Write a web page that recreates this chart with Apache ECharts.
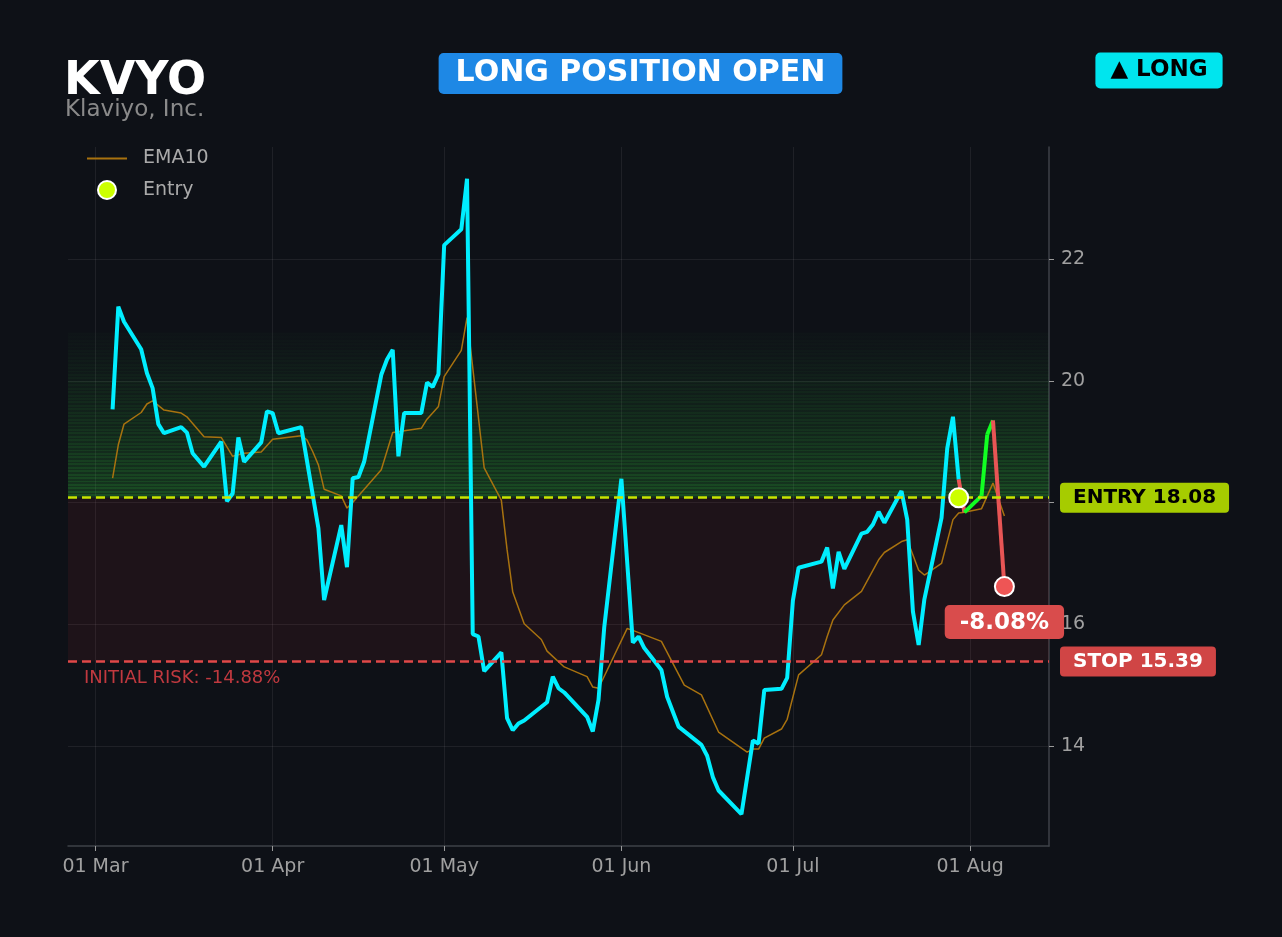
<!DOCTYPE html>
<html><head><meta charset="utf-8">
<script src="https://cdn.jsdelivr.net/npm/echarts@6/dist/echarts.min.js"></script>
<style>html,body{margin:0;padding:0;background:#0e1117;}#chart{width:1282px;height:937px;}</style>
</head><body><div id="chart"></div>
<script>
const ticker = 'KVYO';
const company = 'Klaviyo, Inc.';
const statusText = 'LONG POSITION OPEN';
const sideText = '▲ LONG';

const priceDates = [
 '2026-03-04','2026-03-05','2026-03-06','2026-03-09','2026-03-10','2026-03-11','2026-03-12','2026-03-13','2026-03-16','2026-03-17','2026-03-18','2026-03-20','2026-03-23','2026-03-24','2026-03-25','2026-03-26','2026-03-27','2026-03-30','2026-03-31',
 '2026-04-01','2026-04-02','2026-04-06','2026-04-09','2026-04-10','2026-04-13','2026-04-14','2026-04-15','2026-04-16','2026-04-17','2026-04-20','2026-04-21','2026-04-22','2026-04-23','2026-04-24','2026-04-27','2026-04-28','2026-04-29','2026-04-30',
 '2026-05-01','2026-05-04','2026-05-05','2026-05-06','2026-05-07','2026-05-08','2026-05-11','2026-05-12','2026-05-13','2026-05-14','2026-05-15','2026-05-19','2026-05-20','2026-05-21','2026-05-22','2026-05-26','2026-05-27','2026-05-28','2026-05-29',
 '2026-06-01','2026-06-03','2026-06-04','2026-06-05','2026-06-08','2026-06-09','2026-06-11','2026-06-15','2026-06-16','2026-06-17','2026-06-18','2026-06-22','2026-06-24','2026-06-25','2026-06-26','2026-06-29','2026-06-30',
 '2026-07-01','2026-07-02','2026-07-06','2026-07-07','2026-07-08','2026-07-09','2026-07-10','2026-07-13','2026-07-14','2026-07-15','2026-07-16','2026-07-17','2026-07-20','2026-07-21','2026-07-22','2026-07-23','2026-07-24','2026-07-27','2026-07-28','2026-07-29','2026-07-30','2026-07-31',
 '2026-08-03','2026-08-04','2026-08-05','2026-08-07'
];
const priceValues = [
 19.53,21.22,20.97,20.52,20.13,19.88,19.29,19.14,19.24,19.15,18.81,18.59,19.00,18.02,18.15,19.07,18.67,18.99,19.50,
 19.47,19.14,19.24,17.58,16.40,17.63,16.94,18.40,18.42,18.67,20.10,20.35,20.51,18.76,19.47,19.47,19.97,19.90,20.11,
 22.23,22.49,23.32,15.84,15.80,15.23,15.54,14.46,14.26,14.37,14.42,14.72,15.14,14.95,14.88,14.48,14.24,14.76,15.95,
 18.39,15.70,15.80,15.61,15.25,14.81,14.32,14.02,13.84,13.49,13.27,12.88,14.09,14.04,14.92,14.94,15.12,
 16.39,16.93,17.03,17.26,16.59,17.19,16.91,17.49,17.52,17.64,17.85,17.67,18.19,17.72,16.21,15.66,16.41,17.75,18.89,19.41,18.38,17.84,
 18.11,19.12,19.35,16.62
];

const emaDates = [
 '2026-03-04','2026-03-05','2026-03-06','2026-03-09','2026-03-10','2026-03-11','2026-03-13','2026-03-16','2026-03-17','2026-03-20','2026-03-23','2026-03-25','2026-03-27','2026-03-30',
 '2026-04-01','2026-04-06','2026-04-07','2026-04-08','2026-04-09','2026-04-10','2026-04-13','2026-04-14','2026-04-15','2026-04-20','2026-04-22','2026-04-27','2026-04-28','2026-04-30',
 '2026-05-01','2026-05-04','2026-05-05','2026-05-08','2026-05-11','2026-05-12','2026-05-13','2026-05-15','2026-05-18','2026-05-19','2026-05-22','2026-05-26','2026-05-27','2026-05-28',
 '2026-06-02','2026-06-03','2026-06-08','2026-06-12','2026-06-15','2026-06-18','2026-06-23','2026-06-24','2026-06-25','2026-06-26','2026-06-29','2026-06-30',
 '2026-07-02','2026-07-06','2026-07-07','2026-07-08','2026-07-10','2026-07-13','2026-07-16','2026-07-17','2026-07-20','2026-07-21','2026-07-22','2026-07-23','2026-07-24','2026-07-27','2026-07-29','2026-07-30','2026-07-31',
 '2026-08-03','2026-08-05','2026-08-07'
];
const emaValues = [
 18.40,18.95,19.29,19.48,19.62,19.67,19.52,19.47,19.41,19.08,19.07,18.76,18.81,18.83,
 19.04,19.10,19.03,18.84,18.62,18.22,18.11,17.91,18.00,18.54,19.15,19.22,19.37,19.58,
 20.07,20.50,21.04,18.57,18.04,17.23,16.53,16.01,15.75,15.56,15.30,15.14,14.97,14.95,
 15.93,15.90,15.72,15.00,14.84,14.23,13.90,13.95,13.95,14.13,14.28,14.44,
 15.17,15.50,15.80,16.07,16.32,16.54,17.06,17.18,17.36,17.39,17.14,16.89,16.81,17.00,17.72,17.83,17.84,
 17.90,18.32,17.78
];

const entryDate = '2026-07-30';
const entryPrice = 18.08;
const stopPrice = 15.39;
const targetPrice = 20.79;
const pnlText = '-8.08%';
const riskText = 'INITIAL RISK: -14.88%';
const monthTicks = ['2026-03-01','2026-04-01','2026-05-01','2026-06-01','2026-07-01','2026-08-01'];
const monthNames = ['Jan','Feb','Mar','Apr','May','Jun','Jul','Aug','Sep','Oct','Nov','Dec'];
const yTicks = [14,16,18,20,22];

const FONT = 'DejaVu Sans';
function ts(s){const p=s.split('-');return new Date(+p[0],+p[1]-1,+p[2]).getTime();}

const priceData = priceDates.map((d,i)=>[ts(d),priceValues[i]]);
const emaData = emaDates.map((d,i)=>[ts(d),emaValues[i]]);
const entryIdx = priceDates.indexOf(entryDate);

const pMin = Math.min(...priceValues), pMax = Math.max(...priceValues);
const yPad = (pMax-pMin)*0.05;
const xFirst = ts(priceDates[0]), xLast = ts(priceDates[priceDates.length-1]);
const xPad = (xLast-xFirst)*0.05;

// green zone gradient with stripes
const N = 48, stops = [];
for (let i=0;i<N;i++){
  const t=(i+0.5)/N;
  const a=0.015+0.22*Math.pow(t,1.2);
  stops.push({offset:i/N,color:'rgba(45,175,55,'+(a*1.6).toFixed(3)+')'});
  stops.push({offset:(i+0.55)/N,color:'rgba(45,175,55,'+(a*1.6).toFixed(3)+')'});
  stops.push({offset:(i+0.55)/N,color:'rgba(45,175,55,'+a.toFixed(3)+')'});
  stops.push({offset:(i+1)/N,color:'rgba(45,175,55,'+a.toFixed(3)+')'});
}
const greenFill = new echarts.graphic.LinearGradient(0,0,0,1,stops);

const series = [];
series.push({
  name:'EMA10', type:'line', data:emaData, showSymbol:false, symbol:'none',
  lineStyle:{color:'#a8720f',width:1.5}, itemStyle:{color:'#a8720f'}, z:2, silent:true,
  markLine:{silent:true, symbol:['none','none'], animation:false, data:[
    {yAxis:stopPrice, lineStyle:{color:'rgba(0,0,0,0)',width:0},
     label:{show:true,position:'insideStartBottom',distance:[16,8],formatter:riskText,
       color:'#c0393f',fontFamily:FONT,fontSize:18}}
  ]}
});
series.push({
  name:'price', type:'line', data:priceData.slice(0,entryIdx+1), showSymbol:false, symbol:'none',
  lineStyle:{color:'#00eeff',width:4}, itemStyle:{color:'#00eeff'}, z:3, silent:true,
  markArea:{silent:true, data:[
    [{yAxis:entryPrice,itemStyle:{color:greenFill}},{yAxis:targetPrice}],
    [{yAxis:stopPrice,itemStyle:{color:'rgba(200,45,60,0.09)'}},{yAxis:entryPrice}]
  ]},
  markLine:{silent:true, symbol:['none','none'], animation:false, data:[
    {yAxis:entryPrice, lineStyle:{color:'#c8e600',type:[9,5],width:2.5},
     label:{show:true,position:'end',distance:11,formatter:'ENTRY '+entryPrice.toFixed(2),
       backgroundColor:'#a6cc00',color:'#000',fontFamily:FONT,fontWeight:'bold',fontSize:20,
       padding:[5,13,5,13],borderRadius:4}},
    {yAxis:stopPrice, lineStyle:{color:'#e04848',type:[9,5],width:2.5},
     label:{show:true,position:'end',distance:11,formatter:'STOP '+stopPrice.toFixed(2),
       backgroundColor:'#d04545',color:'#fff',fontFamily:FONT,fontWeight:'bold',fontSize:20,
       padding:[5,13,5,13],borderRadius:4}}
  ]}
});
for (let i=entryIdx;i<priceData.length-1;i++){
  const up = priceData[i+1][1] >= priceData[i][1];
  series.push({
    name:'trade'+i, type:'line', data:[priceData[i],priceData[i+1]], showSymbol:false, symbol:'none',
    lineStyle:{color: up?'#11ff22':'#e85555', width:4}, z:3, silent:true
  });
}
series.push({
  name:'Entry', type:'scatter', data:[[ts(entryDate),entryPrice]], symbolSize:19,
  itemStyle:{color:'#ccff00',borderColor:'#ffffff',borderWidth:2,opacity:1}, z:6, silent:true
});
series.push({
  name:'exit', type:'scatter', data:[priceData[priceData.length-1]], symbolSize:19,
  itemStyle:{color:'#ee5555',borderColor:'#ffffff',borderWidth:2,opacity:1}, z:6, silent:true,
  label:{show:true,position:'bottom',distance:8,formatter:pnlText,backgroundColor:'#d94c4c',
    color:'#fff',fontFamily:FONT,fontWeight:'bold',fontSize:23,padding:[6,15,5,15],borderRadius:5}
});

const chart = echarts.init(document.getElementById('chart'));
chart.setOption({
  backgroundColor:'#0e1117',
  animation:false,
  textStyle:{fontFamily:FONT},
  grid:{left:68,right:233,top:147,bottom:91,containLabel:false},
  legend:{data:[{name:'EMA10',itemStyle:{opacity:0}},{name:'Entry'}],orient:'vertical',left:86,top:149,padding:0,
    itemWidth:40,itemHeight:18,itemGap:12,
    selectedMode:false,textStyle:{color:'#aaaaaa',fontSize:19,fontFamily:FONT,padding:[0,0,0,11]}},
  xAxis:{type:'value',min:xFirst-xPad,max:xLast+xPad,
    axisLine:{show:true,lineStyle:{color:'#3e4148',width:1.5}},
    axisTick:{show:true,length:5,lineStyle:{color:'#9a9a9a'},customValues:monthTicks.map(ts)},
    axisLabel:{color:'#a0a0a0',fontSize:19,fontFamily:FONT,margin:12,customValues:monthTicks.map(ts),
      formatter:function(v){const d=new Date(v);return String(d.getDate()).padStart(2,'0')+' '+monthNames[d.getMonth()];}},
    splitLine:{show:true,lineStyle:{color:'rgba(255,255,255,0.07)',width:1}}
  },
  yAxis:{type:'value',position:'right',min:pMin-yPad,max:pMax+yPad,
    axisLine:{show:true,lineStyle:{color:'#3e4148',width:1.5}},
    axisTick:{show:true,length:5,lineStyle:{color:'#9a9a9a'},customValues:yTicks},
    axisLabel:{color:'#a0a0a0',fontSize:19,fontFamily:FONT,margin:12,customValues:yTicks},
    splitLine:{show:true,lineStyle:{color:'rgba(255,255,255,0.07)',width:1}}
  },
  graphic:[
    {type:'text',left:64,top:59,style:{text:ticker,fill:'#ffffff',font:'bold 46px "DejaVu Sans"'}},
    {type:'text',left:65,top:99,style:{text:company,fill:'#8a8a8a',font:'23px "DejaVu Sans"'}},
    {type:'text',x:640.5,y:73.5,style:{text:statusText,fill:'#ffffff',font:'bold 30px "DejaVu Sans"',
      align:'center',verticalAlign:'middle',backgroundColor:'#1e88e5',padding:[6,17,5,17],borderRadius:5}},
    {type:'text',x:1159,y:70.5,style:{text:sideText,fill:'#000000',font:'bold 23px "DejaVu Sans"',
      align:'center',verticalAlign:'middle',backgroundColor:'#00e5ee',padding:[7,15,6,15],borderRadius:5}}
  ],
  series:series
});
</script></body></html>
